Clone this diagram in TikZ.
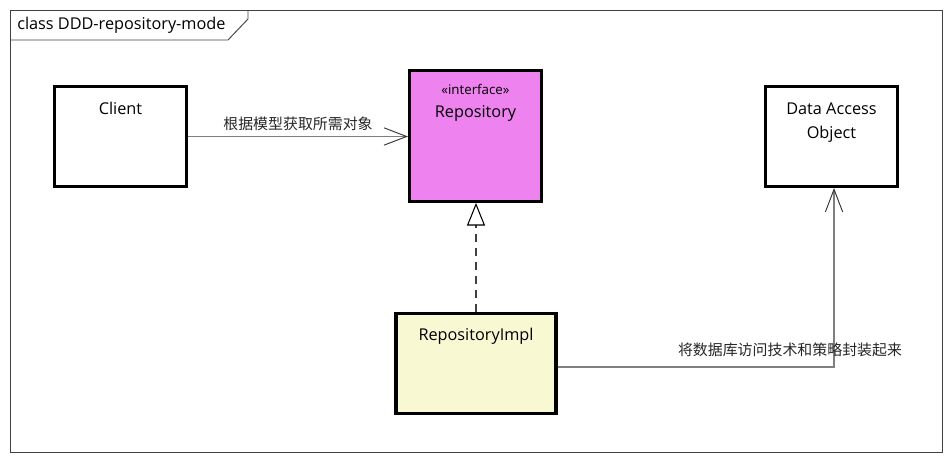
\documentclass[tikz,border=0pt]{standalone}
\usepackage{fontspec}
\setmainfont{Open Sans}
\newfontfamily\cjk{Noto Sans CJK SC}
\usetikzlibrary{arrows.meta,positioning}
\definecolor{ifacefill}{HTML}{EE82EE}
\definecolor{implfill}{HTML}{F8F8D2}
\definecolor{linegray}{HTML}{7F7F7F}

\begin{document}
\begin{tikzpicture}[x=0.75pt, y=-0.75pt,
  cls/.style={rectangle, draw, line width=2.3pt, fill=#1, inner sep=0pt, minimum width=99pt},
  cls/.default=white,
  nm/.style={font=\fontsize{12.2}{18}\selectfont, align=center, inner sep=0pt},
  st/.style={font=\fontsize{10}{12}\selectfont, inner sep=0pt},
  lbl/.style={font=\cjk\fontsize{11.2}{13}\selectfont, inner sep=0pt, text=black!85},
  frm/.style={draw=black!75, line width=0.7pt},
  assoc/.style={linegray, line width=1pt, -{Straight Barb[length=17pt, width=13pt, line width=0.7pt, black!80]}},
  real/.style={black!75, line width=1.5pt, dash pattern=on 6pt off 4.5pt, -{Triangle[open, length=17pt, width=13.5pt, line width=0.8pt, black]}}
]
  \useasboundingbox (0,0) rectangle (951,461);
  \draw[frm] (10,10) rectangle (942,452);
  \draw[frm] (10,40) -- (228,40) -- (248,19) -- (248,10);
  \node[nm, anchor=west] (title) at (17,25) {class DDD-repository-mode};

  \node[cls, minimum height=75pt]                         (client) at (120.5,136.5) {};
  \node[cls=ifacefill, minimum height=98pt]               (repo)   at (475.5,136)   {};
  \node[cls, minimum height=75pt]                         (dao)    at (831.5,136.5) {};
  \node[cls=implfill, minimum width=120pt, minimum height=75pt] (impl) at (476,363.5) {};

  \node[nm] (clientname) at (120.5,108) {Client};
  \node[st] (repost)     at (475.5,89)  {«interface»};
  \node[nm] (reponame)   at (475.5,113.5) {Repository};
  \node[nm] (daoname)    at (831.5,122.5) {Data Access\\Object};
  \node[nm] (implname)   at (476,336.5) {RepositoryImpl};

  \draw[assoc] (client.east) -- node[above=4pt, lbl] (need) {根据模型获取所需对象} (client.east -| repo.west);
  \draw[real] (impl.north) -- (impl.north |- repo.south);
  \draw[assoc] ([yshift=-2.6pt]impl.east) -| ([xshift=1.9pt]dao.south);
  \node[lbl] (wrap) at (790,350) {将数据库访问技术和策略封装起来};
\end{tikzpicture}
\end{document}
